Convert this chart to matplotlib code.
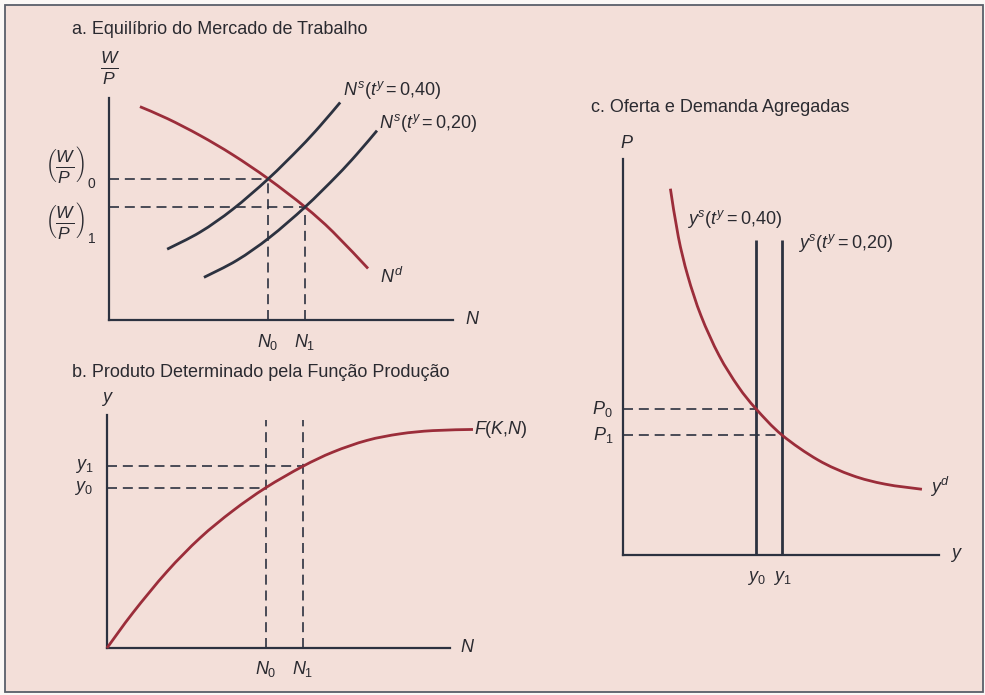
import matplotlib
matplotlib.use("Agg")
import matplotlib.pyplot as plt
from matplotlib.patches import Rectangle, PathPatch
from matplotlib.path import Path

plt.rcParams['font.family'] = ['Liberation Sans', 'DejaVu Sans']
plt.rcParams['mathtext.fontset'] = 'custom'
plt.rcParams['mathtext.rm'] = 'Liberation Sans'
plt.rcParams['mathtext.it'] = 'Liberation Sans:italic'
plt.rcParams['mathtext.bf'] = 'Liberation Sans:bold'

# ---------------- data (arbitrary units 0..100) ----------------
# Panel a: labour market
Nd_x = [9.0, 17.0, 26.5, 36.0, 46.3, 57.0, 65.1, 75.3]
Nd_y = [96.1, 90.7, 83.1, 74.4, 63.6, 50.9, 39.7, 23.2]
Ns40_x = [16.9, 26.5, 36.0, 46.3, 55.5, 61.3, 67.2]
Ns40_y = [31.9, 39.6, 49.9, 63.6, 77.6, 87.3, 98.0]
Ns20_x = [27.6, 37.2, 46.7, 57.0, 66.2, 72.0, 77.9]
Ns20_y = [19.2, 26.9, 37.2, 50.9, 64.9, 74.6, 85.3]
N0, N1 = 46.3, 57.0
WP0, WP1 = 63.6, 50.9

# Panel b: production function
F_x = [0, 7.6, 17.5, 27.1, 36.7, 46.3, 57.0, 65.9, 75.8, 85.4, 95.0, 106.7]
F_y = [0, 15.2, 32.8, 47.2, 58.9, 68.8, 77.9, 84.1, 89.1, 91.9, 93.3, 93.8]
Y0, Y1 = 68.8, 77.9
b_vtop = 97.9

# Panel c: aggregate supply and demand
yd_x = [15.0, 17.5, 20.5, 24.7, 30.4, 36.5, 42.1, 50.3, 61.7, 72.5, 82.9, 94.6]
yd_y = [92.5, 80.4, 70.5, 60.4, 50.4, 42.5, 36.9, 30.3, 24.0, 20.1, 17.9, 16.6]
ys0, ys1 = 42.1, 50.3
P0, P1 = 36.9, 30.3
ys_top = 79.5

# ---------------- style ----------------
W, H = 985, 695
BG = '#f3dfd9'
RED = '#9b2d3a'
DARK = '#2c3240'
TXT = '#2a2a30'
DASH = (0, (6, 3.5))

fig = plt.figure(figsize=(W / 100, H / 100), dpi=100)
fig.patch.set_facecolor('#fbf8f6')
fig.patches.append(Rectangle((5 / W, 1 - 692 / H), 978 / W, 687 / H,
                             transform=fig.transFigure, facecolor=BG,
                             edgecolor='#5a5f6a', lw=1.3, zorder=-10))


def box(l, r, t, b):
    ax = fig.add_axes([l / W, 1 - b / H, (r - l) / W, (b - t) / H])
    ax.set_zorder(2)
    ax.set_xlim(0, 100)
    ax.set_ylim(0, 100)
    ax.patch.set_alpha(0)
    for s in ('top', 'right'):
        ax.spines[s].set_visible(False)
    for s in ('left', 'bottom'):
        ax.spines[s].set_color(DARK)
        ax.spines[s].set_linewidth(1.6)
    ax.set_xticks([])
    ax.set_yticks([])
    return ax


def curve(ax, xs, ys, color, lw=2.0):
    """Smooth curve through the read points (Catmull-Rom as cubic Bezier path)."""
    pts = list(zip(xs, ys))
    n = len(pts)
    verts = [pts[0]]
    codes = [Path.MOVETO]
    for i in range(n - 1):
        p0 = pts[max(i - 1, 0)]
        p1 = pts[i]
        p2 = pts[i + 1]
        p3 = pts[min(i + 2, n - 1)]
        c1 = (p1[0] + (p2[0] - p0[0]) / 6, p1[1] + (p2[1] - p0[1]) / 6)
        c2 = (p2[0] - (p3[0] - p1[0]) / 6, p2[1] - (p3[1] - p1[1]) / 6)
        verts += [c1, c2, p2]
        codes += [Path.CURVE4] * 3
    ax.add_patch(PathPatch(Path(verts, codes), fill=False, edgecolor=color,
                           lw=lw, clip_on=False, capstyle='butt', zorder=3))


def ftext(px, py, s, size=13, **kw):
    kw.setdefault('color', TXT)
    fig.text(px / W, 1 - py / H, s, fontsize=size, zorder=3, **kw)


def lab(ax, x, y, s, dx=0, dy=0, size=13, ha='center', va='center'):
    ax.annotate(s, xy=(x, y), xytext=(dx, dy), textcoords='offset pixels',
                ha=ha, va=va, fontsize=size, color=TXT, annotation_clip=False)


# ---------------- panel a ----------------
axa = box(109, 453, 98, 320)
curve(axa, Nd_x, Nd_y, RED)
curve(axa, Ns40_x, Ns40_y, DARK)
curve(axa, Ns20_x, Ns20_y, DARK)
axa.plot([0, N0], [WP0, WP0], color=DARK, lw=1.2, ls=DASH)
axa.plot([0, N1], [WP1, WP1], color=DARK, lw=1.2, ls=DASH)
axa.plot([N0, N0], [0, WP0], color=DARK, lw=1.2, ls=DASH)
axa.plot([N1, N1], [0, WP1], color=DARK, lw=1.2, ls=DASH)

ftext(72, 30, 'a. Equilíbrio do Mercado de Trabalho', va='center')
ftext(110, 68, r'$\frac{W}{P}$', size=18, ha='center', va='center')
ftext(85, 165, r'$\left(\frac{W}{P}\right)$', size=18, ha='right', va='center')
ftext(88, 184, '0', size=10, ha='left', va='center')
ftext(85, 221, r'$\left(\frac{W}{P}\right)$', size=18, ha='right', va='center')
ftext(88, 239, '1', size=10, ha='left', va='center')
lab(axa, Ns40_x[-1], Ns40_y[-1], r'$N^s(t^y = 0{,}40)$', dx=3, dy=12, ha='left', va='center')
lab(axa, Ns20_x[-1], Ns20_y[-1], r'$N^s(t^y = 0{,}20)$', dx=2, dy=8, ha='left', va='center')
lab(axa, Nd_x[-1], Nd_y[-1], r'$N^d$', dx=12, dy=-8, ha='left', va='center')
lab(axa, 100, 0, r'$N$', dx=20, dy=0)
lab(axa, N0, 0, r'$N_0$', dy=-22)
lab(axa, N1, 0, r'$N_1$', dy=-22)

# ---------------- panel b ----------------
axb = box(107, 450, 415, 648)
curve(axb, F_x, F_y, RED)
axb.plot([0, N0], [Y0, Y0], color=DARK, lw=1.2, ls=DASH)
axb.plot([0, N1], [Y1, Y1], color=DARK, lw=1.2, ls=DASH)
axb.plot([N0, N0], [0, b_vtop], color=DARK, lw=1.2, ls=DASH)
axb.plot([N1, N1], [0, b_vtop], color=DARK, lw=1.2, ls=DASH)

ftext(72, 373, 'b. Produto Determinado pela Função Produção', va='center')
lab(axb, 0, 100, r'$y$', dy=16)
lab(axb, 0, Y1, r'$y_1$', dx=-14, ha='right')
lab(axb, 0, Y0, r'$y_0$', dx=-14, ha='right')
lab(axb, F_x[-1], F_y[-1], r'$F(K{,}N)$', dx=1, dy=0, ha='left')
lab(axb, 100, 0, r'$N$', dx=18, dy=0)
lab(axb, N0, 0, r'$N_0$', dy=-21)
lab(axb, N1, 0, r'$N_1$', dy=-21)

# ---------------- panel c ----------------
axc = box(623, 939, 159, 555)
curve(axc, yd_x, yd_y, RED)
axc.plot([ys0, ys0], [0, ys_top], color=DARK, lw=2.0, solid_capstyle='butt')
axc.plot([ys1, ys1], [0, ys_top], color=DARK, lw=2.0, solid_capstyle='butt')
axc.plot([0, ys0], [P0, P0], color=DARK, lw=1.2, ls=DASH)
axc.plot([0, ys1], [P1, P1], color=DARK, lw=1.2, ls=DASH)

ftext(591, 108, 'c. Oferta e Demanda Agregadas', va='center')
lab(axc, 0, 100, r'$P$', dy=16, dx=4)
lab(axc, 0, P0, r'$P_0$', dx=-10, ha='right')
lab(axc, 0, P1, r'$P_1$', dx=-10, ha='right')
lab(axc, ys0, ys_top, r'$y^s(t^y = 0{,}40)$', dx=-22, dy=21)
lab(axc, ys1, ys_top, r'$y^s(t^y = 0{,}20)$', dx=16, dy=-3, ha='left')
lab(axc, yd_x[-1], yd_y[-1], r'$y^d$', dx=8, dy=2, ha='left')
lab(axc, 100, 0, r'$y$', dx=17, dy=0)
lab(axc, ys0, 0, r'$y_0$', dy=-23)
lab(axc, ys1, 0, r'$y_1$', dy=-23)

fig.savefig('out.png', dpi=100, facecolor=fig.get_facecolor())
